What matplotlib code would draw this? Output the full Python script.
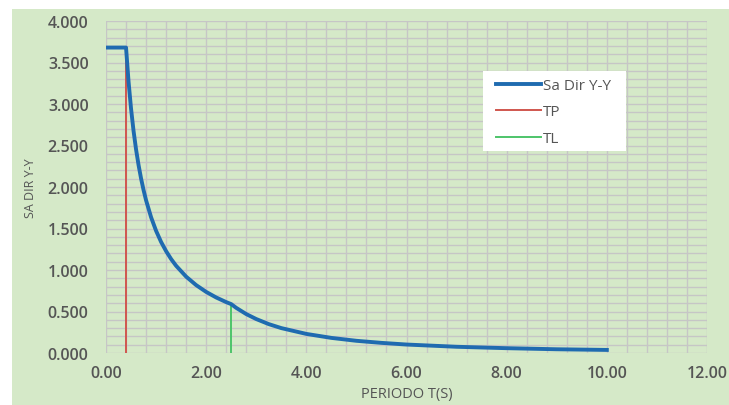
import matplotlib
matplotlib.use("Agg")
import matplotlib.pyplot as plt
from matplotlib.patches import Rectangle
from matplotlib.ticker import MultipleLocator, FormatStrFormatter

# Spectrum values (period in s, spectral acceleration)
periodo = [0.0, 0.4, 0.45, 0.5, 0.55, 0.6, 0.65, 0.7, 0.75, 0.8, 0.9, 1.0,
           1.1, 1.2, 1.3, 1.4, 1.6, 1.8, 2.0, 2.2, 2.4, 2.5, 2.6, 2.8, 3.0,
           3.25, 3.5, 4.0, 4.5, 5.0, 5.5, 6.0, 7.0, 8.0, 9.0, 10.0]
sa_dir_yy = [3.680, 3.680, 3.271, 2.944, 2.676, 2.453, 2.265, 2.103, 1.963,
             1.840, 1.636, 1.472, 1.338, 1.227, 1.132, 1.051, 0.920, 0.818,
             0.736, 0.669, 0.613, 0.589, 0.544, 0.469, 0.409, 0.348, 0.300,
             0.230, 0.182, 0.147, 0.122, 0.102, 0.075, 0.058, 0.045, 0.037]
tp = 0.4
tl = 2.5
tp_line_y = [0.0, 3.680]
tl_line_y = [0.0, 0.589]

bg = "#d5e9c8"
txt = "#555555"
font = "Open Sans"

fig = plt.figure(figsize=(7.29, 4.06), dpi=100, facecolor="white")
fig.patches.append(Rectangle((12 / 729, 0.0), 1 - 12 / 729, 1 - 10 / 406,
                             transform=fig.transFigure, facecolor=bg,
                             edgecolor="none", zorder=-10))

ax = fig.add_axes([106 / 729, 1 - 354 / 406, 601 / 729, 332 / 406])
ax.set_facecolor(bg)

ax.plot(periodo, sa_dir_yy, color="#1f6bb0", lw=2.8, label="Sa Dir Y-Y",
        zorder=4, solid_joinstyle="round")
ax.plot([tp, tp], tp_line_y, color="#d0564e", lw=1.4, label="TP", zorder=3)
ax.plot([tl, tl], tl_line_y, color="#4dc46a", lw=1.4, label="TL", zorder=3)

ax.set_xlim(0, 12)
ax.set_ylim(0, 4)
ax.xaxis.set_major_locator(MultipleLocator(2))
ax.xaxis.set_minor_locator(MultipleLocator(0.4))
ax.yaxis.set_major_locator(MultipleLocator(0.5))
ax.yaxis.set_minor_locator(MultipleLocator(0.1))
ax.xaxis.set_major_formatter(FormatStrFormatter("%.2f"))
ax.yaxis.set_major_formatter(FormatStrFormatter("%.3f"))

ax.grid(which="both", color="#c6c6c6", lw=1.0, zorder=0)
ax.set_axisbelow(True)
for s in ax.spines.values():
    s.set_visible(False)
ax.tick_params(which="both", length=0)
ax.tick_params(axis="x", pad=9, labelsize=11.5, labelcolor=txt)
ax.tick_params(axis="y", pad=12.5, labelsize=11.5, labelcolor=txt)
for lab in ax.get_xticklabels() + ax.get_yticklabels():
    lab.set_fontfamily(font)
    lab.set_fontweight("semibold")

ax.set_xlabel("PERIODO T(S)", fontsize=10.5, color=txt, family=font,
              labelpad=3)
ax.set_ylabel("SA DIR Y-Y", fontsize=9, color=txt, family=font, labelpad=8)

# white legend panel
ax.add_patch(Rectangle((0.627, 0.608), 0.238, 0.241, transform=ax.transAxes,
                       facecolor="white", edgecolor="none", zorder=5))
leg = ax.legend(loc="upper left", bbox_to_anchor=(0.637, 0.849),
                frameon=False, prop={"family": font, "size": 11},
                labelspacing=0.75, handlelength=2.95, handletextpad=0.15,
                borderpad=0.45, borderaxespad=0)
leg.set_zorder(6)
for t in leg.get_texts():
    t.set_color(txt)

fig.savefig("out.png", dpi=100, facecolor="white")
